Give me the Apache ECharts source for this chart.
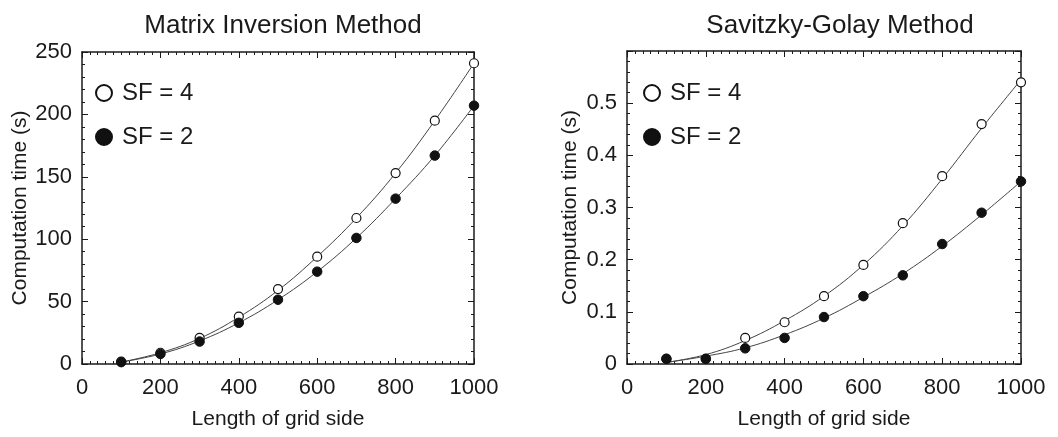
<!DOCTYPE html>
<html>
<head>
<meta charset="utf-8">
<script src="https://cdn.jsdelivr.net/npm/echarts@6/dist/echarts.min.js"></script>
<style>
html,body{margin:0;padding:0;background:#fff;}
#chart{width:1058px;height:437px;}
</style>
</head>
<body>
<div id="chart"></div>
<script>
// ---- data ----
const gridSide = [100, 200, 300, 400, 500, 600, 700, 800, 900, 1000];
// Matrix Inversion Method (s)
const matrixSF4 = [2, 9, 21, 38, 60, 86, 117, 153, 195, 241];
const matrixSF2 = [1.5, 8, 18, 33, 51.5, 74, 101, 132.5, 167, 207];
// fitted curves
const matrixFitSF4 = [1.5, 9, 20.5, 37.5, 59, 86, 117, 153, 195, 241];
const matrixFitSF2 = [1.5, 8, 18.5, 33, 51.5, 74, 101, 132.5, 167, 207];
// Savitzky-Golay Method (s)
const sgSF4 = [0.01, 0.01, 0.05, 0.08, 0.13, 0.19, 0.27, 0.36, 0.46, 0.54];
const sgSF2 = [0.01, 0.01, 0.03, 0.05, 0.09, 0.13, 0.17, 0.23, 0.29, 0.35];
const sgFitSF4 = [0.003, 0.018, 0.045, 0.083, 0.13, 0.19, 0.265, 0.355, 0.452, 0.545];
const sgFitSF2 = [0.003, 0.015, 0.031, 0.056, 0.088, 0.128, 0.173, 0.226, 0.286, 0.35];
const titles = ['Matrix Inversion Method', 'Savitzky-Golay Method'];
const seriesNames = ['SF = 4', 'SF = 2'];
const xName = 'Length of grid side';
const yName = 'Computation time (s)';

const pairs = a => gridSide.map((x, i) => [x, a[i]]);
const FONT = '"Liberation Sans", Arial, sans-serif';
const ink = '#1a1a1a';
const plain = v => String(v);

function xAxes(gridIndex) {
  const common = {
    type: 'value', gridIndex, min: 0, max: 1000, interval: 200,
    axisLine: { show: true, onZero: false, lineStyle: { color: ink, width: 1.5 } },
    axisTick: { show: true, inside: true, length: 6, lineStyle: { color: ink, width: 1 } },
    minorTick: { show: true, splitNumber: 10, length: 3, lineStyle: { color: ink, width: 1 } },
    splitLine: { show: false }, minorSplitLine: { show: false }
  };
  return [
    Object.assign({}, common, {
      position: 'bottom', name: xName, nameLocation: 'middle', nameGap: 45,
      nameTextStyle: { fontFamily: FONT, fontSize: 21, color: ink },
      axisLabel: { fontFamily: FONT, fontSize: 22, color: ink, margin: 13, formatter: plain }
    }),
    Object.assign({}, common, { position: 'top', axisLabel: { show: false } })
  ];
}
function yAxes(gridIndex, max, interval, showMax, nameGap) {
  const common = {
    type: 'value', gridIndex, min: 0, max, interval,
    axisLine: { show: true, onZero: false, lineStyle: { color: ink, width: 1.5 } },
    axisTick: { show: true, inside: true, length: 6, lineStyle: { color: ink, width: 1 } },
    minorTick: { show: true, splitNumber: 5, length: 3, lineStyle: { color: ink, width: 1 } },
    splitLine: { show: false }, minorSplitLine: { show: false }
  };
  return [
    Object.assign({}, common, {
      position: 'left', name: yName, nameLocation: 'middle', nameGap,
      nameTextStyle: { fontFamily: FONT, fontSize: 21, color: ink },
      axisLabel: { fontFamily: FONT, fontSize: 22, color: ink, margin: 10, showMaxLabel: showMax, formatter: plain }
    }),
    Object.assign({}, common, { position: 'right', axisLabel: { show: false } })
  ];
}

const openStyle = { color: '#ffffff', borderColor: '#111', borderWidth: 1.2, opacity: 1 };
const fillStyle = { color: '#111111', borderColor: '#111', borderWidth: 1, opacity: 1 };

function chartSeries(xi, yi, s4, s2, f4, f2) {
  const fit = (d) => ({
    type: 'line', xAxisIndex: xi, yAxisIndex: yi, data: pairs(d), smooth: 0.4,
    showSymbol: false, symbol: 'none', silent: true, z: 1,
    lineStyle: { color: '#444', width: 1 }
  });
  return [
    fit(f4), fit(f2),
    { type: 'scatter', name: seriesNames[0], xAxisIndex: xi, yAxisIndex: yi,
      data: pairs(s4), symbol: 'circle', symbolSize: 9, itemStyle: openStyle, z: 3 },
    { type: 'scatter', name: seriesNames[1], xAxisIndex: xi, yAxisIndex: yi,
      data: pairs(s2), symbol: 'circle', symbolSize: 9.5, itemStyle: fillStyle, z: 4 }
  ];
}

function legend(left) {
  return {
    orient: 'vertical', left, top: 81, padding: 0, itemGap: 20, itemWidth: 16, itemHeight: 16,
    icon: 'circle', selectedMode: false, data: seriesNames,
    itemStyle: { opacity: 1 },
    textStyle: { fontFamily: FONT, fontSize: 24, color: ink, padding: [0, 0, 0, 5] }
  };
}

const option = {
  backgroundColor: '#ffffff',
  animation: false,
  title: [
    { text: titles[0], left: 278, top: 8, textAlign: 'center',
      textStyle: { fontFamily: FONT, fontSize: 26, fontWeight: 'normal', color: ink } },
    { text: titles[1], left: 835, top: 8, textAlign: 'center',
      textStyle: { fontFamily: FONT, fontSize: 26, fontWeight: 'normal', color: ink } }
  ],
  legend: [legend(95), legend(643)],
  grid: [
    { left: 82, right: 584, top: 52, bottom: 73, outerBoundsMode: 'none' },
    { left: 627, right: 37, top: 51, bottom: 73, outerBoundsMode: 'none' }
  ],
  xAxis: [...xAxes(0), ...xAxes(1)],
  yAxis: [...yAxes(0, 250, 50, true, 51), ...yAxes(1, 0.6, 0.1, false, 46)],
  series: [
    ...chartSeries(0, 0, matrixSF4, matrixSF2, matrixFitSF4, matrixFitSF2),
    ...chartSeries(2, 2, sgSF4, sgSF2, sgFitSF4, sgFitSF2)
  ]
};

const chart = echarts.init(document.getElementById('chart'), null, { renderer: 'canvas' });
chart.setOption(option);
</script>
</body>
</html>
